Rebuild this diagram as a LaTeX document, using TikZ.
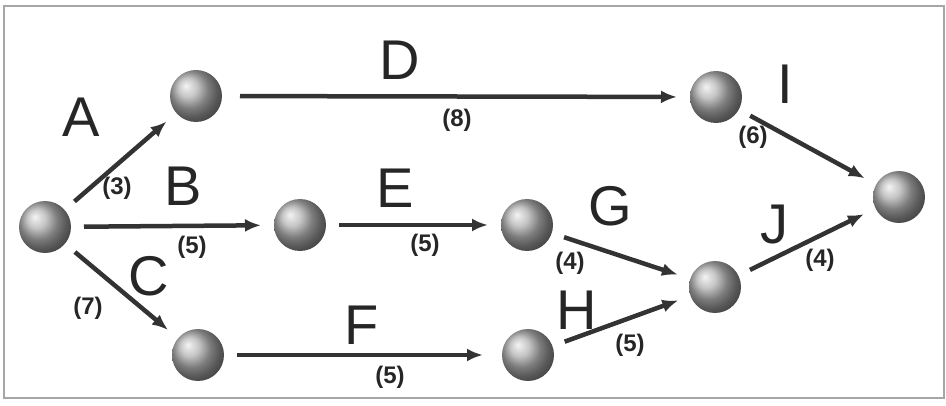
\documentclass[tikz,border=0pt]{standalone}
\usepackage{fontspec}
\setmainfont{Liberation Sans}
\usetikzlibrary{arrows.meta}

\tikzset{
  event/.style={circle, minimum size=52pt, inner sep=0pt, outer sep=13pt,
    shading=ball, ball color=gray!60},
  act/.style={line width=4.5pt, draw=black!80,
    -{Latex[length=16pt,width=13pt]}},
  actname/.style={font=\fontsize{56}{60}\selectfont, text=black!85},
  dur/.style={font=\fontsize{24}{28}\selectfont\bfseries, text=black!85}
}

\begin{document}
\begin{tikzpicture}[x=1pt,y=-1pt]
  \useasboundingbox (0,0) rectangle (946,406);
  \draw[gray!70, line width=1.5pt] (4,6) rectangle (944,398);

  % events
  \node[event] (s)  at (45,227) {};
  \node[event] (a)  at (196,96) {};
  \node[event] (b)  at (300,225) {};
  \node[event] (c)  at (198,355) {};
  \node[event] (e)  at (527,225) {};
  \node[event] (f)  at (528,355) {};
  \node[event] (gh) at (715,287) {};
  \node[event] (d)  at (716,97) {};
  \node[event] (t)  at (899,197) {};

  % activities
  \draw[act] (s) -- (a);
  \draw[act] (s) -- (b);
  \draw[act] (s) -- (c);
  \draw[act, shorten <=5pt] (a) -- (d);
  \draw[act] (b) -- (e);
  \draw[act, shorten >=6pt] (c) -- (f);
  \draw[act] (e) -- (gh);
  \draw[act] (f) -- (gh);
  \draw[act] (d) -- (t);
  \draw[act] (gh) -- (t);

  % names and durations
  \node[actname] (lA) at (81,117) {A};
  \node[dur]     (wA) at (117,188) {(3)};
  \node[actname] (lB) at (183,186) {B};
  \node[dur]     (wB) at (192,247) {(5)};
  \node[actname] (lC) at (149,276) {C};
  \node[dur]     (wC) at (88,308) {(7)};
  \node[actname] (lD) at (400,60) {D};
  \node[dur]     (wD) at (457,120) {(8)};
  \node[actname] (lE) at (395,188) {E};
  \node[dur]     (wE) at (425,245) {(5)};
  \node[actname] (lF) at (362,325) {F};
  \node[dur]     (wF) at (390,377) {(5)};
  \node[actname] (lG) at (610,206) {G};
  \node[dur]     (wG) at (570,263) {(4)};
  \node[actname] (lH) at (577,310) {H};
  \node[dur]     (wH) at (630,345) {(5)};
  \node[actname] (lI) at (785,84) {I};
  \node[dur]     (wI) at (753,137) {(6)};
  \node[actname] (lJ) at (774,225) {J};
  \node[dur]     (wJ) at (820,260) {(4)};
\end{tikzpicture}
\end{document}
